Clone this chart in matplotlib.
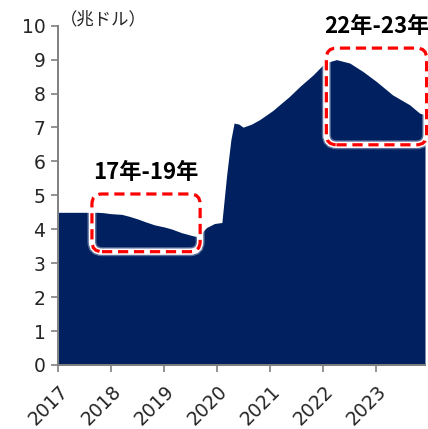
import matplotlib
matplotlib.use("Agg")
import matplotlib.pyplot as plt
from matplotlib.patches import FancyBboxPatch
from matplotlib.transforms import ScaledTranslation

plt.rcParams['font.family'] = ['DejaVu Sans', 'Noto Sans CJK JP']

# Fed balance sheet total assets (trillion USD), time in decimal years
years = [2017.00, 2017.40, 2017.75, 2017.85, 2018.00, 2018.20, 2018.35, 2018.51,
         2018.65, 2018.82, 2019.00, 2019.14, 2019.33, 2019.54, 2019.68, 2019.74,
         2019.80, 2019.95, 2020.09, 2020.18, 2020.26, 2020.32, 2020.41, 2020.49,
         2020.65, 2020.80, 2021.05, 2021.20, 2021.36, 2021.56, 2021.81, 2022.03,
         2022.25, 2022.50, 2022.75, 2023.00, 2023.31, 2023.63, 2023.82, 2023.92]
assets = [4.50, 4.50, 4.50, 4.49, 4.46, 4.44, 4.38, 4.30,
          4.22, 4.13, 4.07, 4.01, 3.90, 3.81, 3.77, 3.95,
          4.05, 4.17, 4.20, 5.60, 6.64, 7.13, 7.10, 7.01,
          7.10, 7.23, 7.50, 7.70, 7.91, 8.21, 8.55, 8.90,
          9.00, 8.90, 8.65, 8.36, 7.96, 7.67, 7.42, 7.38]

tick_years = [2017, 2018, 2019, 2020, 2021, 2022, 2023]
y_ticks = list(range(0, 11))

# highlighted periods: (label, x0, x1, y0, y1)
periods = [("17年-19年", 2017.64, 2019.68, 3.34, 5.04),
           ("22年-23年", 2022.06, 2023.95, 6.49, 9.34)]

NAVY = "#002060"
GRAY = "#808080"
TXT = "#262626"

fig = plt.figure(figsize=(4.28, 4.29), dpi=100)
ax = fig.add_axes([58 / 428, 1 - 365 / 429, (425 - 58) / 428, (365 - 25.7) / 429])

ax.fill_between(years, 0, assets, color=NAVY, linewidth=0)

ax.set_xlim(2017, 2023.92)
ax.set_ylim(0, 10)
ax.set_xticks(tick_years)
ax.set_xticklabels([str(y) for y in tick_years], rotation=45, ha='right',
                   va='center', rotation_mode='anchor', fontsize=13.5, color=TXT)
ax.set_yticks(y_ticks)
ax.set_yticklabels([str(y) for y in y_ticks], fontsize=13.5, color=TXT)
ax.tick_params(axis='both', colors=GRAY, labelcolor=TXT, length=5, width=1.2, pad=4)
ax.tick_params(axis='x', pad=12)
shift = ScaledTranslation(7 / 100, 0, fig.dpi_scale_trans)
for lab in ax.get_xticklabels():
    lab.set_transform(lab.get_transform() + shift)

for side in ('top', 'right'):
    ax.spines[side].set_visible(False)
for side in ('left', 'bottom'):
    ax.spines[side].set_color(GRAY)
    ax.spines[side].set_linewidth(1.4)

ax.text(0.004, 1.02, "（兆ドル）", transform=ax.transAxes, fontsize=12.5,
        color=TXT, ha='left', va='center', family=['Noto Sans CJK JP'])

# pixel scale of the axes -> aspect factor for rounded corners
aspect = (367 / (2023.92 - 2017)) / (339.3 / 10)
rounding = 0.19
for label, x0, x1, y0, y1 in periods:
    style = f"round,pad=0,rounding_size={rounding}"
    glow = FancyBboxPatch((x0, y0), x1 - x0, y1 - y0, boxstyle=style,
                          mutation_aspect=aspect, fill=False, edgecolor='white',
                          linewidth=6.5, alpha=0.35, clip_on=False, zorder=3)
    halo = FancyBboxPatch((x0, y0), x1 - x0, y1 - y0, boxstyle=style,
                          mutation_aspect=aspect, fill=False, edgecolor='white',
                          linewidth=4.5, clip_on=False, zorder=3)
    box = FancyBboxPatch((x0, y0), x1 - x0, y1 - y0, boxstyle=style,
                         mutation_aspect=aspect, fill=False, edgecolor='#FF0000',
                         linewidth=2.3, linestyle=(0, (3.2, 1.8)), clip_on=False,
                         zorder=4)
    ax.add_patch(glow)
    ax.add_patch(halo)
    ax.add_patch(box)
    ax.text((x0 + x1) / 2, y1 + 0.64, label, fontsize=16, fontweight='bold',
            color='black', ha='center', va='center', family=['Noto Sans CJK JP'],
            clip_on=False)

fig.savefig("out.png", dpi=100)
